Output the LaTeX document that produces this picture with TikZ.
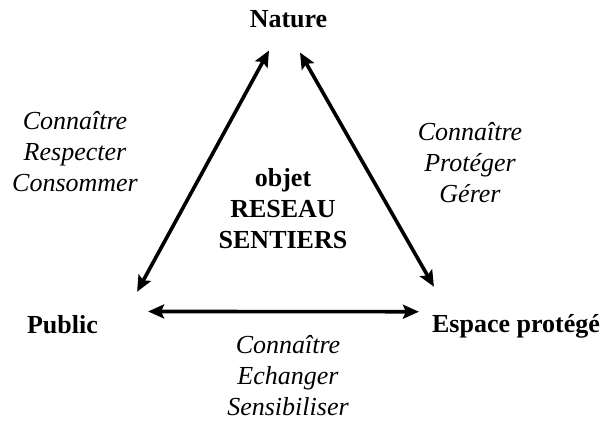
\documentclass[tikz,border=0pt]{standalone}
\usepackage{fontspec}
\setmainfont{Liberation Serif}
\usetikzlibrary{arrows.meta, calc}
\tikzstyle{every node}=[font=\fontsize{26}{31}\selectfont]
\tikzstyle{pole} = [font=\fontsize{26}{31}\selectfont\bfseries, inner sep=2pt, anchor=base]
\tikzstyle{verbs} = [font=\fontsize{26}{31}\selectfont\itshape, align=center, inner sep=0pt]
\tikzstyle{line} = [draw, line width=3.6pt, {Stealth[length=16pt,width=14pt,inset=3pt]}-{Stealth[length=16pt,width=14pt,inset=3pt]}]

\begin{document}
\begin{tikzpicture}[x=1pt, y=1pt]
    \useasboundingbox (0,0) rectangle (604,420);
    % Place nodes
    \node [pole] (nature) at (288.5,392) {Nature};
    \node [pole] (public) at (62.5,86) {Public};
    \node [pole] (espace) at (516,87) {Espace protégé};
    \node [pole, anchor=center, align=center] (objet) at (283,211.5) {objet\\RESEAU\\SENTIERS};
    \node [verbs] (verbsNP) at (75,268) {Connaître\\Respecter\\Consommer};
    \node [verbs] (verbsNE) at (470,257.5) {Connaître\\Protéger\\Gérer};
    \node [verbs] (verbsPE) at (288,44.5) {Connaître\\Echanger\\Sensibiliser};
    % Draw edges
    \path [line] ($(nature.south)+(-19.5,-20)$) -- ($(public.north east)+(37,22)$);
    \path [line] ($(nature.south)+(11.5,-22)$) -- ($(espace.north west)+(4,26)$);
    \path [line] ($(public.north east)+(48,2.3)$) -- ($(espace.north west)+(-11,1)$);
\end{tikzpicture}
\end{document}
